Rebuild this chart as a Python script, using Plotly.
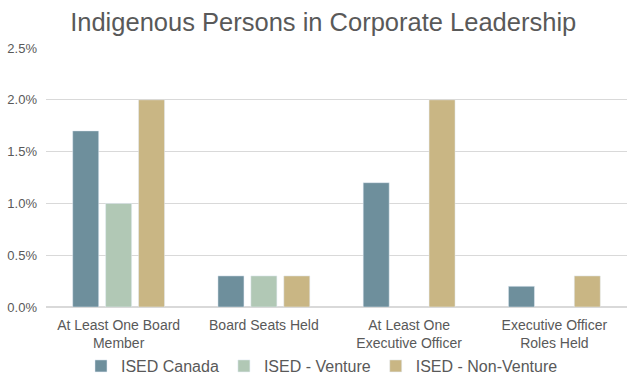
import plotly.graph_objects as go

categories = ["At Least One Board<br>Member", "Board Seats Held", "At Least One<br>Executive Officer", "Executive Officer<br>Roles Held"]
ised_canada = [0.017, 0.003, 0.012, 0.002]
ised_venture = [0.010, 0.003, None, None]
ised_non_venture = [0.020, 0.003, 0.020, 0.003]
y_ticks = [0, 0.005, 0.010, 0.015, 0.020, 0.025]

fig = go.Figure()
fig.add_trace(go.Bar(name="ISED Canada", x=categories, y=ised_canada, marker_color="#6e8f9c"))
fig.add_trace(go.Bar(name="ISED - Venture", x=categories, y=ised_venture, marker_color="#b1c8b5"))
fig.add_trace(go.Bar(name="ISED - Non-Venture", x=categories, y=ised_non_venture, marker_color="#c9b684"))

fig.update_layout(
    width=640, height=384,
    margin=dict(l=46, r=13, t=48, b=77, autoexpand=False),
    paper_bgcolor="white", plot_bgcolor="white",
    font=dict(family="Liberation Sans, Arial, sans-serif", color="#595959"),
    title=dict(text="Indigenous Persons in Corporate Leadership", x=0.505, xanchor="center",
               y=1 - 22 / 384, yanchor="middle", automargin=False,
               font=dict(size=25.5, color="#595959")),
    barmode="group", bargap=0.32, bargroupgap=0.21,
    legend=dict(orientation="h", x=0.475, xanchor="center", y=-0.228, yanchor="middle",
                font=dict(size=16, color="#595959"), itemwidth=30),
    showlegend=True,
)
fig.update_yaxes(range=[0, 0.025], tickvals=y_ticks, tickformat=".1%", showgrid=True,
                 gridcolor="#d9d9d9", gridwidth=1, zeroline=True, zerolinecolor="#d9d9d9",
                 tickfont=dict(size=13, color="#595959"), ticks="", showline=False,
                 ticklabelstandoff=8, automargin=False)
fig.update_xaxes(tickfont=dict(size=14, color="#595959"), showline=False, ticks="",
                 ticklabelstandoff=8, automargin=False)

fig.write_html(
    "out.html",
    config={"displayModeBar": False},
    post_script="document.body.style.margin='0';document.body.style.overflow='hidden';",
)
